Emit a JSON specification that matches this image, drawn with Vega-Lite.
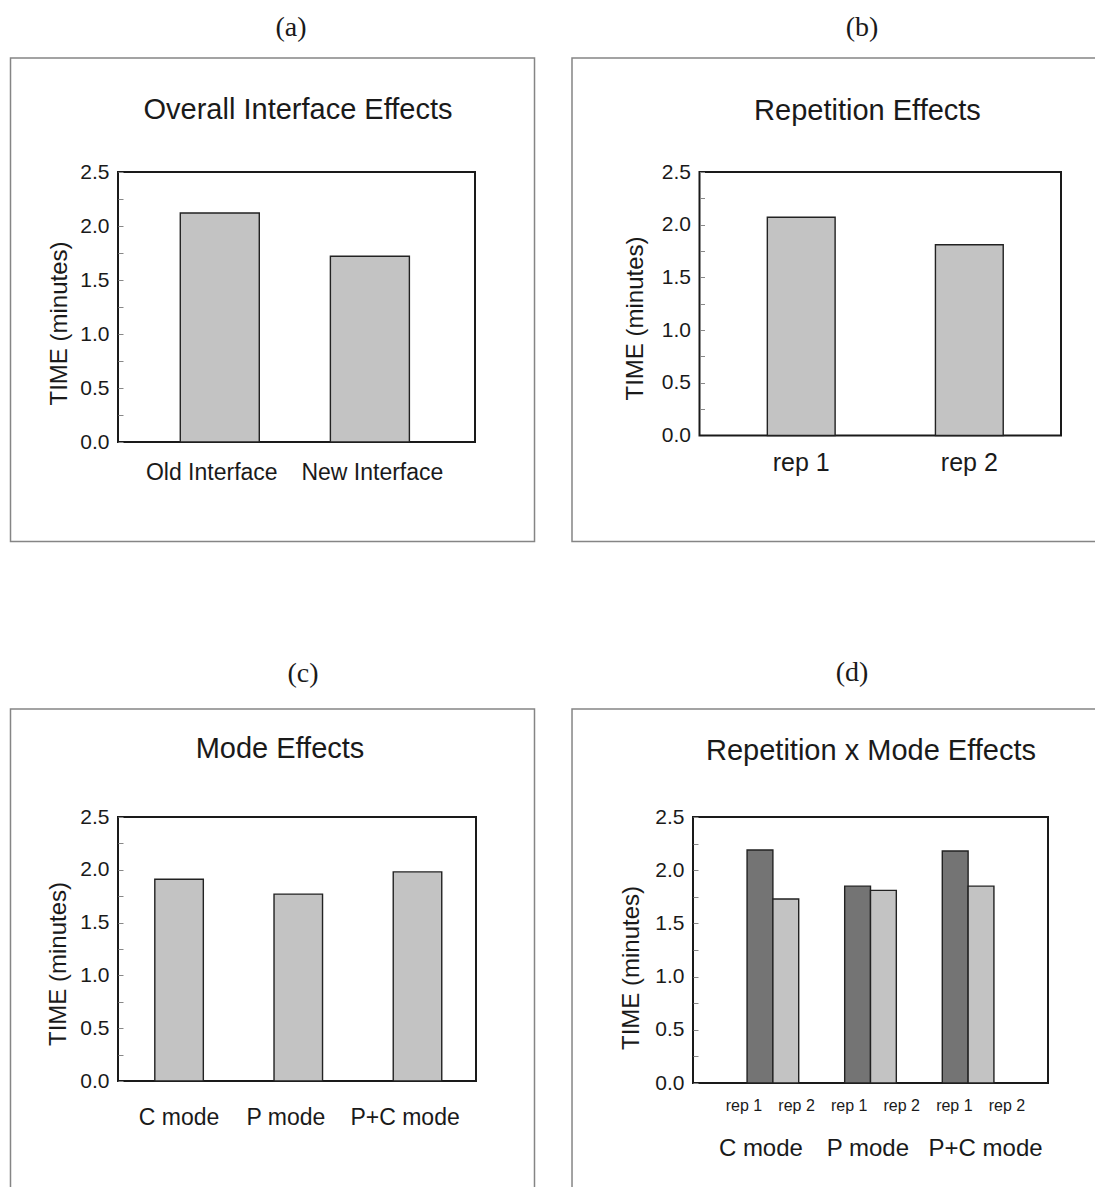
{
  "$schema": "https://vega.github.io/schema/vega-lite/v6.json",
  "padding": {"left": 8, "top": 12, "right": 0, "bottom": 0},
  "background": "white",
  "config": {
    "view": {"stroke": "#1a1a1a", "strokeWidth": 2},
    "font": "Liberation Sans",
    "axis": {"grid": false, "domain": false, "labelColor": "#1a1a1a", "titleColor": "#1a1a1a", "labelFont": "Liberation Sans", "titleFont": "Liberation Sans", "titleFontWeight": "normal", "labelOverlap": false},
    "axisY": {"tickSize": -5, "tickColor": "#888888", "tickWidth": 1, "labelPadding": 14, "labelFontSize": 21, "titleFontSize": 24, "titleBaseline": "middle", "labelFlush": false},
    "axisX": {"ticks": false, "tickSize": 0, "labelAngle": 0, "labelBaseline": "alphabetic", "labelFontSize": 23}
  },
  "bounds": "flush",
  "spacing": 645,
  "vconcat": [
    {
      "bounds": "flush",
      "spacing": 224.5,
      "hconcat": [
        {
          "width": 357, "height": 270,
          "resolve": {"scale": {"x": "independent", "y": "independent"}},
          "layer": [
            {
              "data": {"values": [{"panel": "(a)", "title": "Overall Interface Effects"}]},
              "layer": [
                {"mark": {"type": "rect", "filled": false, "stroke": "#858585", "strokeWidth": 1.5},
                 "encoding": {
                   "x": {"datum": -0.3011, "type": "quantitative", "scale": {"domain": [0, 1], "nice": false, "zero": false}, "axis": null},
                   "x2": {"datum": 1.1667},
                   "y": {"datum": 1.4222, "type": "quantitative", "scale": {"domain": [0, 1], "nice": false, "zero": false}, "axis": null},
                   "y2": {"datum": -0.3685}
                 }},
                {"mark": {"type": "text", "font": "Liberation Serif", "fontSize": 28, "baseline": "middle", "align": "center", "color": "#1a1a1a"},
                 "encoding": {
                   "x": {"datum": 0.4846, "type": "quantitative", "scale": {"domain": [0, 1], "nice": false, "zero": false}, "axis": null},
                   "y": {"datum": 1.5333, "type": "quantitative", "scale": {"domain": [0, 1], "nice": false, "zero": false}, "axis": null},
                   "text": {"field": "panel"}
                 }},
                {"mark": {"type": "text", "font": "Liberation Sans", "fontSize": 29, "baseline": "alphabetic", "align": "center", "color": "#1a1a1a"},
                 "encoding": {
                   "x": {"datum": 0.5042, "type": "quantitative", "scale": {"domain": [0, 1], "nice": false, "zero": false}, "axis": null},
                   "y": {"datum": 1.1963, "type": "quantitative", "scale": {"domain": [0, 1], "nice": false, "zero": false}, "axis": null},
                   "text": {"field": "title"}
                 }}
              ]
            },
            {
              "data": {"values": [{"interface": "Old Interface", "time": 2.12}, {"interface": "New Interface", "time": 1.72}]},
              "mark": {"type": "bar", "fill": "#c3c3c3", "stroke": "#222222", "strokeWidth": 1.4},
              "encoding": {
                "x": {"field": "interface", "type": "nominal", "sort": null, "scale": {"paddingInner": 0.4737, "paddingOuter": 0.426, "align": 0.487},
                      "axis": {"orient": "bottom", "title": null, "labelPadding": 37.5, "labelOffset": {"condition": {"test": "datum.value === 'Old Interface'", "value": -8}, "value": 2.5}}},
                "y": {"field": "time", "type": "quantitative", "scale": {"domain": [0, 2.5], "nice": false},
                      "axis": {"orient": "left", "title": "TIME (minutes)", "values": [0, 0.25, 0.5, 0.75, 1, 1.25, 1.5, 1.75, 2, 2.25, 2.5], "format": ".1f", "labelExpr": "(datum.value * 4) % 2 === 0 ? datum.label : ''", "titleX": -59, "titleY": 151}}
              }
            }
          ]
        },
        {
          "width": 361.5, "height": 263.5,
          "resolve": {"scale": {"x": "independent", "y": "independent"}},
          "layer": [
            {
              "data": {"values": [{"panel": "(b)", "title": "Repetition Effects"}]},
              "layer": [
                {"mark": {"type": "rect", "filled": false, "stroke": "#858585", "strokeWidth": 1.5},
                 "encoding": {
                   "x": {"datum": -0.3527, "type": "quantitative", "scale": {"domain": [0, 1], "nice": false, "zero": false}, "axis": null},
                   "x2": {"datum": 1.1452},
                   "y": {"datum": 1.4326, "type": "quantitative", "scale": {"domain": [0, 1], "nice": false, "zero": false}, "axis": null},
                   "y2": {"datum": -0.4023}
                 }},
                {"mark": {"type": "text", "font": "Liberation Serif", "fontSize": 28, "baseline": "middle", "align": "center", "color": "#1a1a1a"},
                 "encoding": {
                   "x": {"datum": 0.4495, "type": "quantitative", "scale": {"domain": [0, 1], "nice": false, "zero": false}, "axis": null},
                   "y": {"datum": 1.5465, "type": "quantitative", "scale": {"domain": [0, 1], "nice": false, "zero": false}, "axis": null},
                   "text": {"field": "panel"}
                 }},
                {"mark": {"type": "text", "font": "Liberation Sans", "fontSize": 29, "baseline": "alphabetic", "align": "center", "color": "#1a1a1a"},
                 "encoding": {
                   "x": {"datum": 0.4647, "type": "quantitative", "scale": {"domain": [0, 1], "nice": false, "zero": false}, "axis": null},
                   "y": {"datum": 1.1973, "type": "quantitative", "scale": {"domain": [0, 1], "nice": false, "zero": false}, "axis": null},
                   "text": {"field": "title"}
                 }}
              ]
            },
            {
              "data": {"values": [{"repetition": "rep 1", "time": 2.07}, {"repetition": "rep 2", "time": 1.81}]},
              "mark": {"type": "bar", "fill": "#c3c3c3", "stroke": "#222222", "strokeWidth": 1.4},
              "encoding": {
                "x": {"field": "repetition", "type": "nominal", "sort": null, "scale": {"paddingInner": 0.5967, "paddingOuter": 0.3736, "align": 0.54},
                      "axis": {"orient": "bottom", "title": null, "labelPadding": 35, "labelFontSize": 25}},
                "y": {"field": "time", "type": "quantitative", "scale": {"domain": [0, 2.5], "nice": false},
                      "axis": {"orient": "left", "title": "TIME (minutes)", "values": [0, 0.25, 0.5, 0.75, 1, 1.25, 1.5, 1.75, 2, 2.25, 2.5], "format": ".1f", "labelExpr": "(datum.value * 4) % 2 === 0 ? datum.label : ''", "titleX": -64, "titleY": 146}}
              }
            }
          ]
        }
      ]
    },
    {
      "bounds": "flush",
      "spacing": 217,
      "hconcat": [
        {
          "width": 358, "height": 264,
          "resolve": {"scale": {"x": "independent", "y": "independent"}},
          "layer": [
            {
              "data": {"values": [{"panel": "(c)", "title": "Mode Effects"}]},
              "layer": [
                {"mark": {"type": "rect", "filled": false, "stroke": "#858585", "strokeWidth": 1.5},
                 "encoding": {
                   "x": {"datum": -0.3003, "type": "quantitative", "scale": {"domain": [0, 1], "nice": false, "zero": false}, "axis": null},
                   "x2": {"datum": 1.1634},
                   "y": {"datum": 1.4091, "type": "quantitative", "scale": {"domain": [0, 1], "nice": false, "zero": false}, "axis": null},
                   "y2": {"datum": -0.4508}
                 }},
                {"mark": {"type": "text", "font": "Liberation Serif", "fontSize": 28, "baseline": "middle", "align": "center", "color": "#1a1a1a"},
                 "encoding": {
                   "x": {"datum": 0.5168, "type": "quantitative", "scale": {"domain": [0, 1], "nice": false, "zero": false}, "axis": null},
                   "y": {"datum": 1.5417, "type": "quantitative", "scale": {"domain": [0, 1], "nice": false, "zero": false}, "axis": null},
                   "text": {"field": "panel"}
                 }},
                {"mark": {"type": "text", "font": "Liberation Sans", "fontSize": 29, "baseline": "alphabetic", "align": "center", "color": "#1a1a1a"},
                 "encoding": {
                   "x": {"datum": 0.4525, "type": "quantitative", "scale": {"domain": [0, 1], "nice": false, "zero": false}, "axis": null},
                   "y": {"datum": 1.2235, "type": "quantitative", "scale": {"domain": [0, 1], "nice": false, "zero": false}, "axis": null},
                   "text": {"field": "title"}
                 }}
              ]
            },
            {
              "data": {"values": [{"mode": "C mode", "time": 1.91}, {"mode": "P mode", "time": 1.77}, {"mode": "P+C mode", "time": 1.98}]},
              "mark": {"type": "bar", "fill": "#c3c3c3", "stroke": "#222222", "strokeWidth": 1.4},
              "encoding": {
                "x": {"field": "mode", "type": "nominal", "sort": null, "scale": {"paddingInner": 0.593, "paddingOuter": 0.298, "align": 0.518},
                      "axis": {"orient": "bottom", "title": null, "labelPadding": 43, "labelOffset": {"condition": {"test": "datum.value === 'C mode'", "value": 0}, "value": -12.4}}},
                "y": {"field": "time", "type": "quantitative", "scale": {"domain": [0, 2.5], "nice": false},
                      "axis": {"orient": "left", "title": "TIME (minutes)", "values": [0, 0.25, 0.5, 0.75, 1, 1.25, 1.5, 1.75, 2, 2.25, 2.5], "format": ".1f", "labelExpr": "(datum.value * 4) % 2 === 0 ? datum.label : ''", "titleX": -60, "titleY": 146.5}}
              }
            }
          ]
        },
        {
          "width": 355, "height": 266,
          "resolve": {"scale": {"x": "independent", "y": "independent"}},
          "data": {"values": [
            {"mode": "C mode", "rep": "rep 1", "cell": "C mode / rep 1", "time": 2.19},
            {"mode": "C mode", "rep": "rep 2", "cell": "C mode / rep 2", "time": 1.73},
            {"mode": "P mode", "rep": "rep 1", "cell": "P mode / rep 1", "time": 1.85},
            {"mode": "P mode", "rep": "rep 2", "cell": "P mode / rep 2", "time": 1.81},
            {"mode": "P+C mode", "rep": "rep 1", "cell": "P+C mode / rep 1", "time": 2.18},
            {"mode": "P+C mode", "rep": "rep 2", "cell": "P+C mode / rep 2", "time": 1.85}
          ]},
          "layer": [
            {
              "data": {"values": [{"panel": "(d)", "title": "Repetition x Mode Effects"}]},
              "layer": [
                {"mark": {"type": "rect", "filled": false, "stroke": "#858585", "strokeWidth": 1.5},
                 "encoding": {
                   "x": {"datum": -0.3408, "type": "quantitative", "scale": {"domain": [0, 1], "nice": false, "zero": false}, "axis": null},
                   "x2": {"datum": 1.1746},
                   "y": {"datum": 1.406, "type": "quantitative", "scale": {"domain": [0, 1], "nice": false, "zero": false}, "axis": null},
                   "y2": {"datum": -0.4398}
                 }},
                {"mark": {"type": "text", "font": "Liberation Serif", "fontSize": 28, "baseline": "middle", "align": "center", "color": "#1a1a1a"},
                 "encoding": {
                   "x": {"datum": 0.4479, "type": "quantitative", "scale": {"domain": [0, 1], "nice": false, "zero": false}, "axis": null},
                   "y": {"datum": 1.5414, "type": "quantitative", "scale": {"domain": [0, 1], "nice": false, "zero": false}, "axis": null},
                   "text": {"field": "panel"}
                 }},
                {"mark": {"type": "text", "font": "Liberation Sans", "fontSize": 29, "baseline": "alphabetic", "align": "center", "color": "#1a1a1a"},
                 "encoding": {
                   "x": {"datum": 0.5014, "type": "quantitative", "scale": {"domain": [0, 1], "nice": false, "zero": false}, "axis": null},
                   "y": {"datum": 1.2143, "type": "quantitative", "scale": {"domain": [0, 1], "nice": false, "zero": false}, "axis": null},
                   "text": {"field": "title"}
                 }}
              ]
            },
            {
              "mark": {"type": "bar", "stroke": "#222222", "strokeWidth": 1.4},
              "encoding": {
                "x": {"field": "mode", "type": "nominal", "sort": null, "scale": {"paddingInner": 0.471, "paddingOuter": 0.554},
                      "axis": {"orient": "bottom", "title": null, "labelPadding": 72.7, "labelFontSize": 24, "labelOffset": {"condition": [{"test": "datum.value === 'C mode'", "value": -12}, {"test": "datum.value === 'P mode'", "value": -2.6}], "value": 17.5}}},
                "xOffset": {"field": "rep", "type": "nominal", "sort": null, "scale": {"paddingInner": 0, "paddingOuter": 0}},
                "y": {"field": "time", "type": "quantitative", "scale": {"domain": [0, 2.5], "nice": false},
                      "axis": {"orient": "left", "title": "TIME (minutes)", "values": [0, 0.25, 0.5, 0.75, 1, 1.25, 1.5, 1.75, 2, 2.25, 2.5], "format": ".1f", "labelExpr": "(datum.value * 4) % 2 === 0 ? datum.label : ''", "titleX": -62, "titleY": 150.5}},
                "fill": {"field": "rep", "type": "nominal", "sort": null, "scale": {"range": ["#747474", "#c3c3c3"]}, "legend": null}
              }
            },
            {
              "mark": {"type": "text", "fontSize": 16, "baseline": "alphabetic", "align": "center", "color": "#1a1a1a"},
              "encoding": {
                "x": {"field": "cell", "type": "nominal", "sort": null, "scale": {"type": "point", "padding": 0.8745, "align": 0.554}, "axis": null},
                "y": {"datum": -0.263, "type": "quantitative", "scale": {"domain": [0, 2.5], "nice": false}, "axis": null},
                "text": {"field": "rep"}
              }
            }
          ]
        }
      ]
    }
  ]
}
